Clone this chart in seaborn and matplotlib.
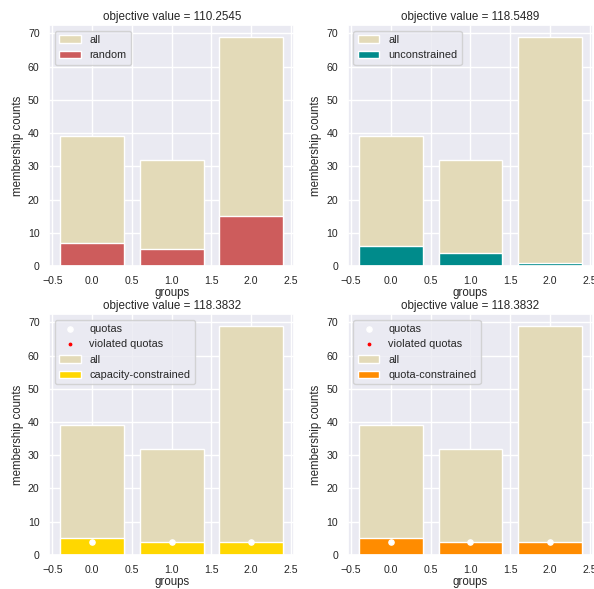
import numpy as np
import pandas as pd
import matplotlib
matplotlib.use("Agg")
import matplotlib.pyplot as plt
import seaborn as sns

# group ids and counts
groups = [0, 1, 2]
all_counts = [39, 32, 69]
random_counts = [7, 5, 15]
unconstrained_counts = [6, 4, 1]
capacity_counts = [5, 4, 4]
quota_counts = [5, 4, 4]
quotas = [4, 4, 4]

objectives = ["110.2545", "118.5489", "118.3832", "118.3832"]
selections = [
    ("random", random_counts, "indianred", False),
    ("unconstrained", unconstrained_counts, "darkcyan", False),
    ("capacity-constrained", capacity_counts, "gold", True),
    ("quota-constrained", quota_counts, "darkorange", True),
]

sns.set_theme(style="darkgrid")
plt.rcParams['font.family'] = ['Liberation Sans', 'DejaVu Sans']

fig, axes = plt.subplots(2, 2, figsize=(5.94, 5.89), dpi=100)
fig.subplots_adjust(left=0.083, right=0.998, top=0.957, bottom=0.058,
                    wspace=0.22, hspace=0.2)

for ax, obj, (name, counts, col, show_quotas) in zip(axes.flat, objectives, selections):
    df = pd.DataFrame({"groups": groups, "all": all_counts, "sel": counts})
    sns.barplot(data=df, x="groups", y="all", native_scale=True, color="#e3dab8",
                saturation=1, errorbar=None, label="all", ax=ax)
    sns.barplot(data=df, x="groups", y="sel", native_scale=True, color=col,
                saturation=1, errorbar=None, label=name, ax=ax)
    if show_quotas:
        ax.scatter(groups, quotas, color="white", s=14, zorder=3, label="quotas")
        ax.scatter([], [], color="red", s=3, label="violated quotas")
    ax.set_xlim(-0.54, 2.54)
    ax.set_ylim(0, 72.45)
    ax.set_xlabel("groups", fontsize=8.3, labelpad=1)
    ax.set_ylabel("membership counts", fontsize=8.3, labelpad=3)
    ax.set_title("objective value = " + obj, fontsize=8.4, pad=4)
    ax.tick_params(labelsize=7.6, pad=1)
    ax.legend(loc="upper left", fontsize=7.8)

fig.savefig("out.png", dpi=100)
